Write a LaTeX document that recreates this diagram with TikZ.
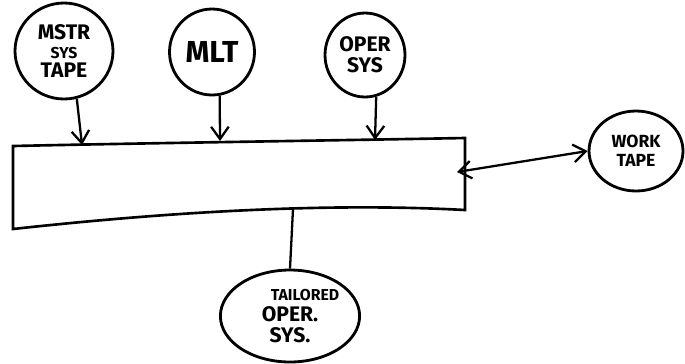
\documentclass[tikz,border=0pt]{standalone}
\usepackage{fontspec}
\setmainfont{Fira Sans}
\usetikzlibrary{arrows.meta,shapes.geometric}
\begin{document}
\begin{tikzpicture}[x=0.02cm,y=-0.02cm,
  bubble/.style={draw,line width=1.6pt,ellipse,inner sep=0pt,align=center,font=\bfseries,text=black},
  link/.style={line width=1.3pt,-{Straight Barb[length=7pt,width=10pt]}},
  twoway/.style={line width=1.3pt,{Straight Barb[length=7pt,width=10pt]}-{Straight Barb[length=7pt,width=10pt]}},
  plain/.style={line width=1.3pt}]
\useasboundingbox (0,0) rectangle (685,363);
% bubbles
\node[bubble,minimum width=1.96cm,minimum height=1.92cm,font=\bfseries\large] (mstr) at (64,51) {MSTR\\[-3pt]\small SYS\\[-3pt]TAPE};
\node[bubble,minimum width=1.70cm,minimum height=1.72cm,font=\bfseries\LARGE] (mlt) at (212,52) {MLT};
\node[bubble,minimum width=1.60cm,minimum height=1.68cm,font=\bfseries\large] (oper) at (365,55) {OPER\\[-2pt]SYS};
\node[bubble,minimum width=1.88cm,minimum height=1.60cm,font=\bfseries] (work) at (636,151) {WORK\\[-1pt]TAPE};
\node[bubble,minimum width=2.20cm,minimum height=1.84cm,font=\bfseries\small] (tail) at (290,316) {\hspace*{0.6cm}TAILORED\\[1pt]\large OPER.\\[1pt]\large SYS.};
% big box
\coordinate (b1) at (13,146);
\coordinate (b2) at (465,138);
\coordinate (b3) at (465,210);
\coordinate (b4) at (13,229);
\draw[line width=1.5pt] (b1) .. controls (150,143) and (300,141) .. (b2) -- (b3)
  .. controls (390,206) and (250,203) .. (b4) -- cycle;
\coordinate (in1) at (82,145);
\coordinate (in2) at (220,141);
\coordinate (in3) at (375,140);
\coordinate (sidein) at (457,172);
\coordinate (bot) at (293,209);
% connectors
\draw[link] (mstr.-75) -- (in1);
\draw[link] (mlt.-80) -- (in2);
\draw[link] (oper.-75) -- (in3);
\draw[twoway] (sidein) -- (work.west);
\draw[plain] (bot) -- (tail.north);
\end{tikzpicture}
\end{document}
